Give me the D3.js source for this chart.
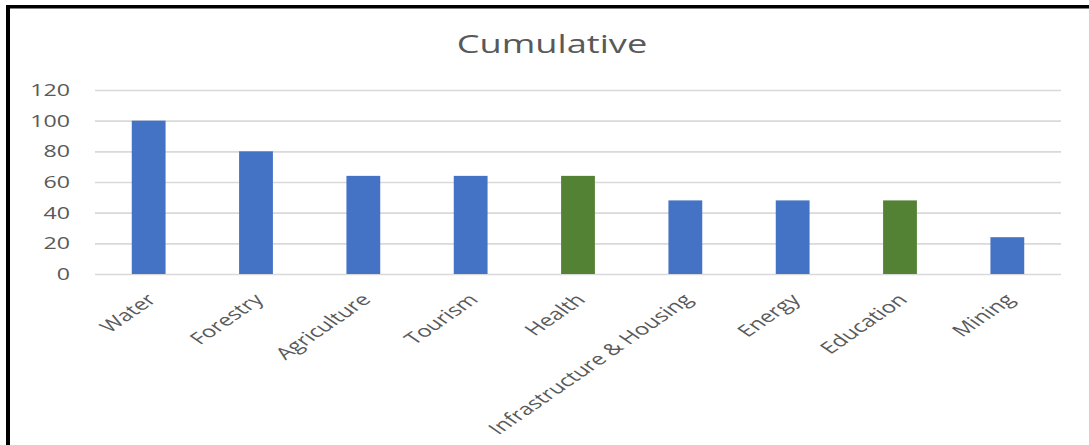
<!DOCTYPE html>
<html>
<head>
<meta charset="utf-8">
<script src="https://cdn.jsdelivr.net/npm/d3@7"></script>
<style>
  html, body { margin: 0; padding: 0; background: #fff; }
  svg { display: block; }
  text { font-family: "Open Sans", sans-serif; fill: #595959; }
</style>
</head>
<body>
<svg id="chart" width="1089" height="445"></svg>
<script>
const title = "Cumulative";
const categories = ["Water", "Forestry", "Agriculture", "Tourism", "Health",
  "Infrastructure & Housing", "Energy", "Education", "Mining"];
const values = [100, 80, 64, 64, 64, 48, 48, 48, 24];
const groups = ["blue", "blue", "blue", "blue", "green", "blue", "blue", "green", "blue"];
const yTicks = [0, 20, 40, 60, 80, 100, 120];

const colors = { blue: "#4472C4", green: "#548235" };
const sx = 1.45; // horizontal stretch of text seen in the reference

const svg = d3.select("#chart");
const W = 1089, H = 445;
const plot = { left: 95, right: 1061, top: 90, bottom: 274 };

svg.append("rect").attr("x", 0).attr("y", 0).attr("width", W).attr("height", H).attr("fill", "#fff");

// border: top and left thick black lines
svg.append("rect").attr("x", 6).attr("y", 5).attr("width", W - 6).attr("height", 3.5).attr("fill", "#000");
svg.append("rect").attr("x", 6).attr("y", 5).attr("width", 4).attr("height", H - 5).attr("fill", "#000");

const x = d3.scaleBand().domain(categories).range([plot.left, plot.right]).paddingInner(0.685).paddingOuter(0.3425);
const y = d3.scaleLinear().domain([0, 120]).range([plot.bottom, plot.top]);

// gridlines
const yAxis = d3.axisLeft(y).tickValues(yTicks).tickSize(-(plot.right - plot.left)).tickFormat("");
const gy = svg.append("g").attr("transform", `translate(${plot.left},0)`).call(yAxis);
gy.select(".domain").remove();
gy.selectAll(".tick line").attr("stroke", "#d9d9d9").attr("stroke-width", 1.6);

// y tick labels
svg.append("g").selectAll("text").data(yTicks).join("text")
  .attr("transform", d => `translate(70,${y(d) + 6}) scale(${sx},1)`)
  .attr("text-anchor", "end")
  .attr("font-size", 16)
  .text(d => d);

// bars
svg.append("g").selectAll("rect").data(categories).join("rect")
  .attr("x", d => x(d))
  .attr("width", x.bandwidth())
  .attr("y", (d, i) => y(values[i]))
  .attr("height", (d, i) => y(0) - y(values[i]))
  .attr("fill", (d, i) => colors[groups[i]]);

// x labels
svg.append("g").selectAll("text").data(categories).join("text")
  .attr("transform", d => `translate(${x(d) + x.bandwidth() / 2 - 4},${plot.bottom + 18}) scale(${sx},1) rotate(-45)`)
  .attr("text-anchor", "end")
  .attr("font-size", 16.5)
  .attr("dy", "0.75em")
  .text(d => d);

// title
svg.append("text")
  .attr("transform", `translate(552,53) scale(${sx},1)`)
  .attr("text-anchor", "middle")
  .attr("font-size", 25)
  .text(title);
</script>
</body>
</html>
